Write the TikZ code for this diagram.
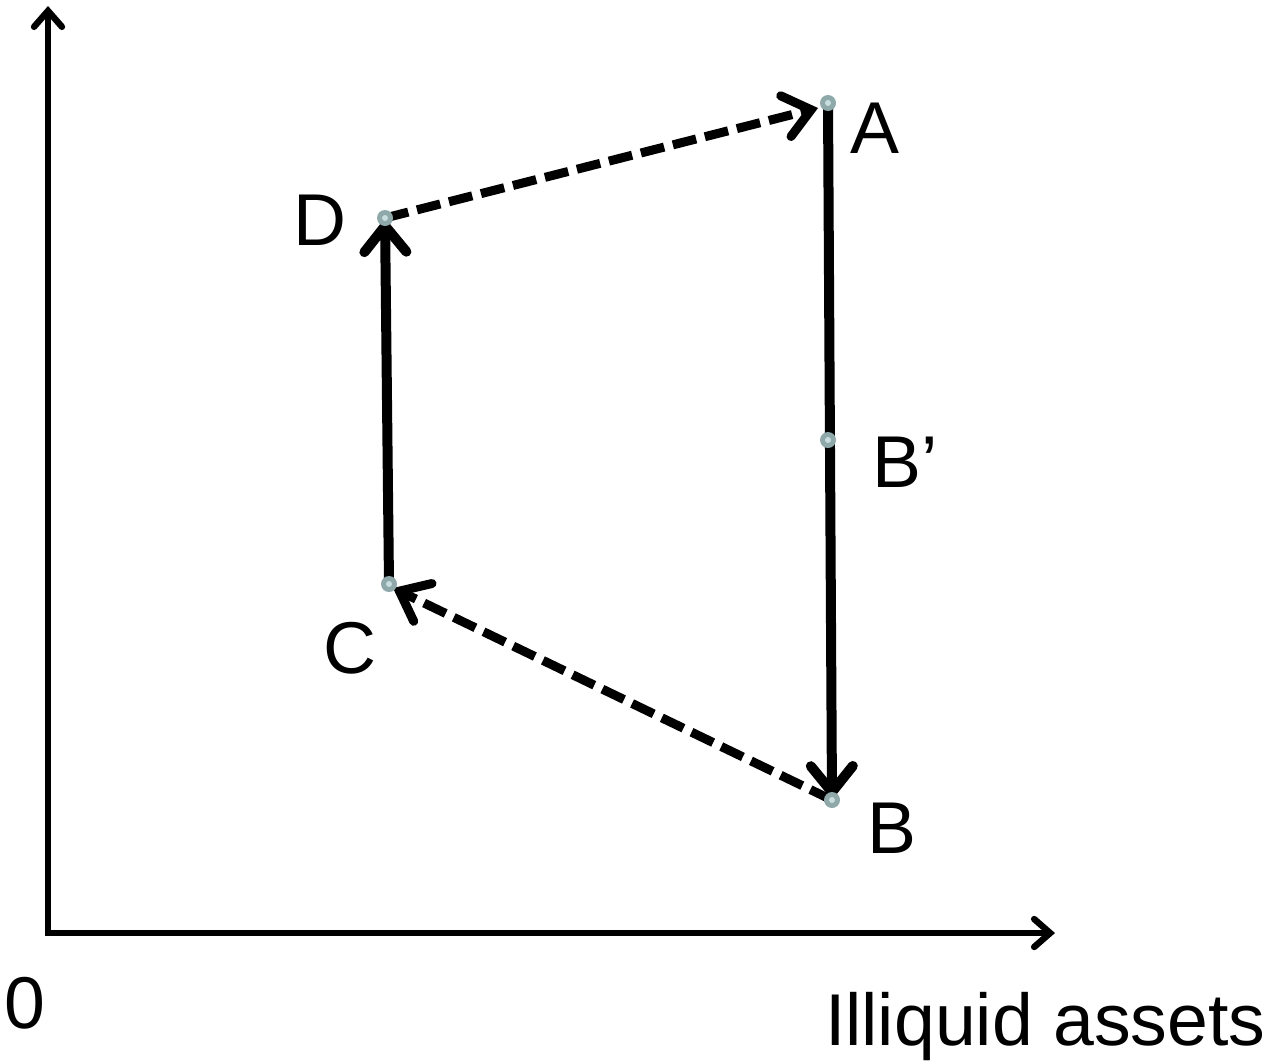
\documentclass[tikz,border=0pt]{standalone}
\usepackage{fontspec}
\setmainfont{Liberation Sans}
\usetikzlibrary{arrows.meta}
\definecolor{dotouter}{RGB}{143,168,170}
\definecolor{dotinner}{RGB}{200,222,222}
\begin{document}
\begin{tikzpicture}[x=0.5pt,y=-0.5pt,
  axis/.style={line width=3.2pt,-{Straight Barb[length=8pt,width=14pt,line cap=round]}},
  solidarrow/.style={line width=5pt,line cap=round,-{Straight Barb[length=13pt,width=21pt,line cap=round]}},
  dasharrow/.style={line width=4.5pt,line cap=butt,dash pattern=on 12pt off 4.5pt,-{Straight Barb[length=13pt,width=21pt,line cap=round]}},
  dot/.style={circle,fill=dotouter,inner sep=0pt,minimum size=8pt,
    path picture={\fill[dotinner] (path picture bounding box.center) circle (1.5pt);}},
  lbl/.style={font=\fontsize{36.7}{40}\selectfont,inner sep=0pt}]
\useasboundingbox (0,0) rectangle (1272,1060);
\coordinate (O) at (48,933);
\coordinate (Ytop) at (48,6);
\coordinate (Xend) at (1055,933);
\coordinate (A) at (828,103);
\coordinate (Bp) at (828,440);
\coordinate (B) at (832,800);
\coordinate (C) at (389,584);
\coordinate (D) at (385,218);
\draw[axis] ([yshift=1.6pt]O) -- (Ytop);
\draw[axis] ([xshift=-1.6pt]O) -- (Xend);
\draw[solidarrow] (A) -- (B);
\draw[dasharrow] (B) -- ([xshift=2pt,yshift=-2pt]C);
\draw[solidarrow] (C) -- (D);
\draw[dasharrow] (D) -- ([xshift=-5pt,yshift=-2.5pt]A);
\foreach \p in {A,Bp,B,C,D} \node[dot] (dot\p) at (\p) {};
\node[lbl] (lA) at (875,128) {A};
\node[lbl] (lBp) at (905,462) {B’};
\node[lbl] (lB) at (892,828) {B};
\node[lbl] (lC) at (350,648) {C};
\node[lbl] (lD) at (320,220) {D};
\node[lbl] (l0) at (25,1003) {0};
\node[lbl,anchor=base east] (lX) at (1266,1045) {Illiquid assets};
\end{tikzpicture}
\end{document}
